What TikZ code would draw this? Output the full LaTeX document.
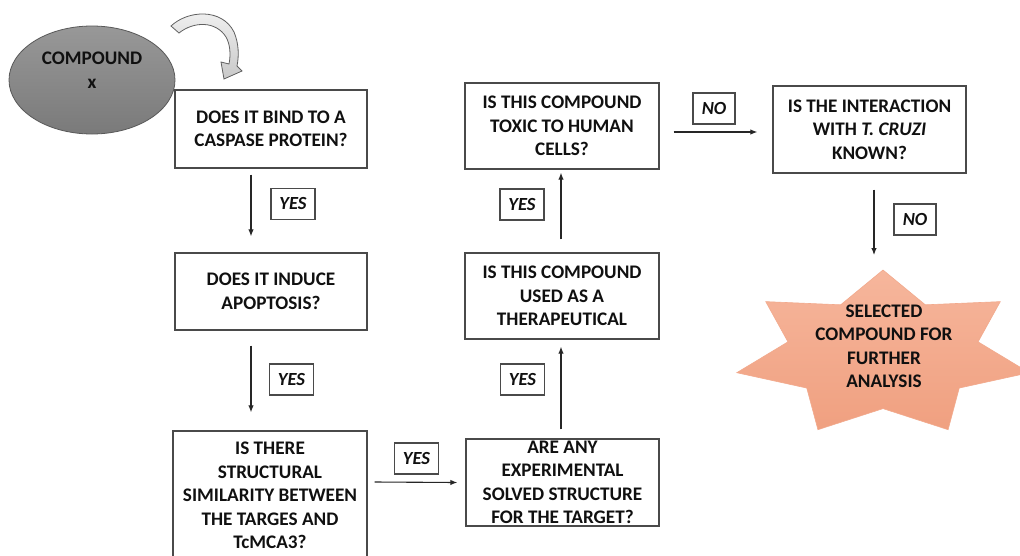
\documentclass[tikz,border=0pt]{standalone}
\usepackage{fontspec}
\setmainfont{Carlito}
\usetikzlibrary{arrows.meta,shapes.geometric}
\definecolor{boxline}{HTML}{4A4A4A}
\definecolor{txt}{HTML}{101010}
\definecolor{starA}{HTML}{F6B69C}
\definecolor{starB}{HTML}{F0A080}
\definecolor{ellA}{HTML}{989898}
\definecolor{ellB}{HTML}{7A7A7A}
\definecolor{arrA}{HTML}{F2F2F2}
\definecolor{arrB}{HTML}{C8C8C8}
\tikzset{
  qbox/.style={draw=boxline, line width=1.4pt, fill=white, inner sep=0pt},
  qtext/.style={align=center, text=txt, inner sep=0pt,
     font=\fontsize{19.2}{23.5}\selectfont\bfseries},
  ansbox/.style={draw=boxline, line width=1.1pt, fill=white, inner sep=0pt,
     minimum width=44pt, minimum height=31pt, text=txt,
     font=\fontsize{18.5}{22}\selectfont\bfseries\itshape},
  conn/.style={draw=black!85, line width=1.1pt, -{Latex[length=7pt,width=5.5pt]}}
}
\begin{document}
\begin{tikzpicture}[x=1pt,y=-1pt]
\useasboundingbox (0,0) rectangle (1020,555);
\fill[white] (0,0) rectangle (1020,555);
\clip (0,0) rectangle (1020,555);

% compound ellipse
\node[ellipse, draw=gray!70!black, line width=0.8pt, top color=ellA, bottom color=ellB,
      minimum width=166pt, minimum height=108pt, inner sep=0pt] (cmpd) at (92,80) {};
\node[qtext] (cmpdtext) at (92,70) {COMPOUND\\[0pt]x};

% curved block arrow
\path[draw=gray!75!black, line width=0.8pt, top color=arrA, bottom color=arrB]
  (171,26) .. controls (188,10) and (222,8) .. (234,32)
  .. controls (239,44) and (239,56) .. (237,66)
  -- (242,71) -- (224,79) -- (221,62) -- (229,64)
  .. controls (231,54) and (230,44) .. (226,37)
  .. controls (216,21) and (194,21) .. (179,33) -- cycle;

% question boxes
\node[qbox, minimum width=192pt, minimum height=78pt,
      label={[qtext]center:{DOES IT BIND TO A\\CASPASE PROTEIN?}}] (b1) at (271,129) {};
\node[qbox, minimum width=192pt, minimum height=77pt,
      label={[qtext]center:{DOES IT INDUCE\\APOPTOSIS?}}] (b2) at (271,291.5) {};
\node[qbox, minimum width=194pt, minimum height=129pt,
      label={[qtext]center:{IS THERE\\STRUCTURAL\\SIMILARITY BETWEEN\\THE TARGES AND\\TcMCA3?}}] (b3) at (270,495.5) {};
\node[qbox, minimum width=193pt, minimum height=87pt,
      label={[qtext]center:{ARE ANY\\EXPERIMENTAL\\SOLVED STRUCTURE\\FOR THE TARGET?}}] (b4) at (562.5,482.5) {};
\node[qbox, minimum width=194pt, minimum height=86pt,
      label={[qtext]center:{IS THIS COMPOUND\\USED AS A\\THERAPEUTICAL}}] (b5) at (562,296) {};
\node[qbox, minimum width=194pt, minimum height=86pt,
      label={[qtext]center:{IS THIS COMPOUND\\TOXIC TO HUMAN\\CELLS?}}] (b6) at (562,126) {};
\node[qbox, minimum width=193pt, minimum height=87pt,
      label={[qtext]center:{IS THE INTERACTION\\WITH \textit{T. CRUZI}\\KNOWN?}}] (b7) at (869.5,129.5) {};

% star
\begin{scope}[shift={(883,354)}, y=1pt]
  \path[top color=starA, bottom color=starB, draw=starB!90!white, line width=0.6pt]
    (90:150 and 84)
    \foreach \i in {0,...,6} {
      -- ({90+\i*360/7+360/14}:97.5 and 54.6)
      -- ({90+(\i+1)*360/7}:150 and 84) } -- cycle;
\end{scope}
\node[qtext] (sel) at (884,346.5) {SELECTED\\COMPOUND FOR\\FURTHER\\ANALYSIS};
\coordinate (stend) at (874,255);

% answer labels
\node[ansbox] (y1) at (293,204) {YES};
\node[ansbox] (y2) at (291.5,379.5) {YES};
\node[ansbox] (y3) at (416.5,458.5) {YES};
\node[ansbox] (y4) at (522.5,379.5) {YES};
\node[ansbox] (y5) at (522,204.5) {YES};
\node[ansbox, minimum width=42pt] (n1) at (714,108.5) {NO};
\node[ansbox, minimum width=42pt] (n2) at (915,219.5) {NO};

% connectors
\draw[conn] ([xshift=-20pt,yshift=-6pt]b1.south) -- ([xshift=-20pt,yshift=16pt]b2.north);
\draw[conn] ([xshift=-20pt,yshift=-15pt]b2.south) -- ([xshift=-19pt,yshift=18pt]b3.north);
\draw[conn] ([xshift=7pt,yshift=13.5pt]b3.east) -- ([xshift=-8pt]b4.west);
\draw[conn] ([xshift=-1.5pt,yshift=9pt]b4.north) -- ([xshift=-1pt,yshift=-7pt]b5.south);
\draw[conn] ([xshift=-1pt,yshift=13pt]b5.north) -- ([xshift=-1pt,yshift=-3pt]b6.south);
\draw[conn] ([xshift=14pt,yshift=-6pt]b6.east) -- ([xshift=-15pt,yshift=-2.5pt]b7.west);
\draw[conn] ([xshift=4.5pt,yshift=-16pt]b7.south) -- (stend);
\end{tikzpicture}
\end{document}
